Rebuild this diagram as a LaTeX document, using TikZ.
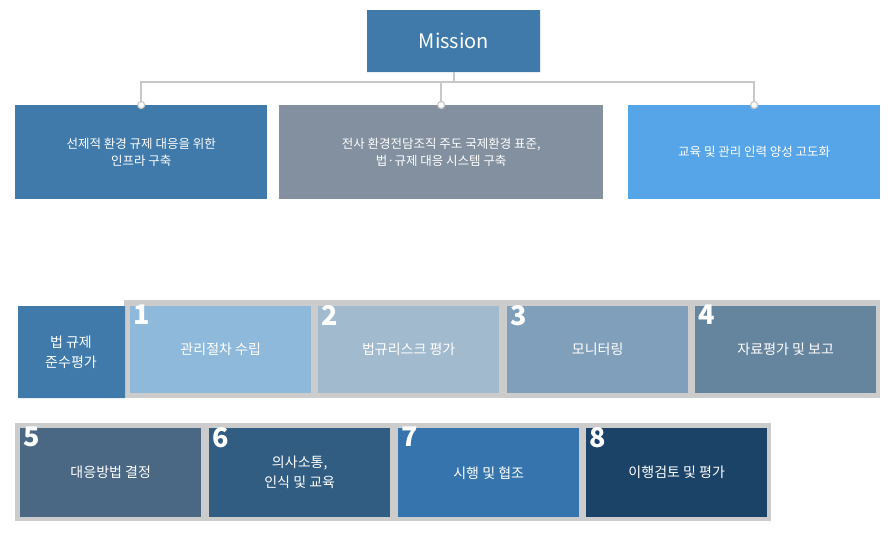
\documentclass[tikz,border=0pt]{standalone}
\usepackage{fontspec}
\setmainfont{Noto Sans CJK KR}
\usetikzlibrary{positioning}
\definecolor{cmis}{HTML}{3F7AAB}
\definecolor{cgoal2}{HTML}{8290A0}
\definecolor{cgoal3}{HTML}{55A5E8}
\definecolor{cline}{HTML}{C8C8C8}
\definecolor{cstrip}{HTML}{CCCCCC}
\definecolor{cs1}{HTML}{8FB9DB}
\definecolor{cs2}{HTML}{A2BACE}
\definecolor{cs3}{HTML}{7F9FBA}
\definecolor{cs4}{HTML}{65849E}
\definecolor{cs5}{HTML}{4A6884}
\definecolor{cs6}{HTML}{315D82}
\definecolor{cs7}{HTML}{3574AC}
\definecolor{cs8}{HTML}{1B4267}
\begin{document}
\begin{tikzpicture}[x=1pt,y=-1pt]
    \tikzset{goal/.style = {anchor=north west, text=white, align=center, inner sep=0pt, font=\fontsize{12.5}{17}\selectfont},
      stepbox/.style = {anchor=north west, minimum width=181pt, minimum height=87pt, inner sep=0pt, text=white, align=center, font=\fontsize{14}{20}\selectfont},
      num/.style = {anchor=north west, text=white, inner sep=0pt, font=\fontsize{27}{27}\bfseries\selectfont},
      dot/.style = {circle, fill=white, draw=cline, line width=1.2pt, inner sep=0pt, minimum size=7pt}}
    \useasboundingbox (0,0) rectangle (892,542);

    % mission
    \fill[cmis, rounded corners=8pt] (367,72) -- (367,10) [sharp corners] -- (540,10) -- (540,72) -- cycle;
    \fill[cmis] (375,10) rectangle (540,72);
    \fill[cmis] (367,10) rectangle (400,60);
    \node[text=white, font=\fontsize{20}{20}\selectfont] (mis) at (454,41) {Mission};
    \coordinate (misb) at (454,72);

    % goals
    \node[goal, fill=cmis, minimum width=252pt, minimum height=94pt] (g1) at (15,105) {선제적 환경 규제 대응을 위한\\인프라 구축};
    \node[goal, fill=cgoal2, minimum width=324pt, minimum height=94pt] (g2) at (279,105) {전사 환경전담조직 주도 국제환경 표준,\\법·규제 대응 시스템 구축};
    \node[goal, fill=cgoal3, minimum width=252pt, minimum height=94pt] (g3) at (628,105) {교육 및 관리 인력 양성 고도화};

    \draw[cline, line width=1.5pt] (misb) -- (454,82);
    \draw[cline, line width=1.5pt] (g1.north) -- ++(0,-23) -| (g3.north);
    \draw[cline, line width=1.5pt] (g2.north) -- ++(0,-23);
    \foreach \g in {g1,g2,g3} \node[dot] at (\g.north) {};

    % row 1
    \fill[cstrip] (124,300) rectangle (880,398);
    \fill[cmis, rounded corners=10pt] (18,398) -- (18,306) [sharp corners] -- (125,306) -- (125,398) -- cycle;
    \fill[cmis] (18,306) rectangle (125,380);
    \fill[cmis] (40,306) rectangle (125,398);
    \node[text=white, align=center, font=\fontsize{14}{20}\selectfont] (lab) at (71,352) {법 규제\\준수평가};
    \node[stepbox, fill=cs1] (s1) at (130,306) {관리절차 수립};
    \node[stepbox, fill=cs2] (s2) at (318,306) {법규리스크 평가};
    \node[stepbox, fill=cs3] (s3) at (507,306) {모니터링};
    \node[stepbox, fill=cs4] (s4) at (695,306) {자료평가 및 보고};

    % row 2
    \fill[cstrip] (15,423) rectangle (771,521);
    \node[stepbox, fill=cs5, minimum height=89pt] (s5) at (20,428) {대응방법 결정};
    \node[stepbox, fill=cs6, minimum height=89pt] (s6) at (209,428) {의사소통,\\인식 및 교육};
    \node[stepbox, fill=cs7, minimum height=89pt] (s7) at (398,428) {시행 및 협조};
    \node[stepbox, fill=cs8, minimum height=89pt] (s8) at (586,428) {이행검토 및 평가};

    \foreach \s/\n in {s1/1,s2/2,s3/3,s4/4,s5/5,s6/6,s7/7,s8/8}
      \node[num] at ([xshift=3pt,yshift=1pt]\s.north west) {\n};
\end{tikzpicture}
\end{document}
